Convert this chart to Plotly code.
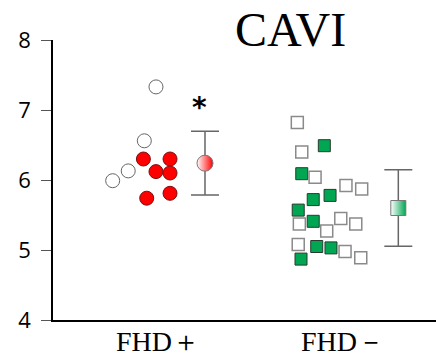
import plotly.graph_objects as go

# ---- data ----
categories = ["FHD\uff0b", "FHD\uff0d"]
group_pos = [1, 2]

# FHD+ individual values
fhdp_open_vals = [7.33, 6.56, 6.13, 5.99]
fhdp_open_jit = [-0.011, -0.074, -0.161, -0.245]
fhdp_fill_vals = [6.30, 6.30, 6.12, 6.10, 5.81, 5.74]
fhdp_fill_jit = [-0.079, 0.065, -0.011, 0.065, 0.065, -0.061]

# FHD- individual values
fhdm_open_vals = [6.82, 6.40, 6.04, 5.92, 5.87, 5.37, 5.27, 5.45, 5.37, 5.08, 4.98, 4.89]
fhdm_open_jit = [-0.247, -0.223, -0.151, 0.016, 0.101, -0.236, -0.088, -0.012, 0.069, -0.242, 0.011, 0.096]
fhdm_fill_vals = [6.49, 6.09, 5.78, 5.72, 5.57, 5.41, 5.05, 5.03, 4.87]
fhdm_fill_jit = [-0.101, -0.223, -0.070, -0.161, -0.242, -0.161, -0.142, -0.065, -0.227]

# group means and SD
means = [6.24, 5.60]
sds = [0.455, 0.545]
mean_offset = [0.254, 0.299]

y_ticks = [4, 5, 6, 7, 8]

fig = go.Figure()

# FHD+ open circles
fig.add_trace(go.Scatter(
    x=[group_pos[0] + j for j in fhdp_open_jit], y=fhdp_open_vals, mode="markers",
    marker=dict(symbol="circle", size=14, color="white", line=dict(color="#666666", width=1)),
    showlegend=False, hoverinfo="skip"))
# FHD+ red circles
fig.add_trace(go.Scatter(
    x=[group_pos[0] + j for j in fhdp_fill_jit], y=fhdp_fill_vals, mode="markers",
    marker=dict(symbol="circle", size=14, color="#ff0000", line=dict(color="#7a1010", width=1)),
    showlegend=False, hoverinfo="skip"))

# FHD- green squares
fig.add_trace(go.Scatter(
    x=[group_pos[1] + j for j in fhdm_fill_jit], y=fhdm_fill_vals, mode="markers",
    marker=dict(symbol="square", size=12, color="#00a651", line=dict(color="#2a3a30", width=1)),
    showlegend=False, hoverinfo="skip"))
# FHD- open squares
fig.add_trace(go.Scatter(
    x=[group_pos[1] + j for j in fhdm_open_jit], y=fhdm_open_vals, mode="markers",
    marker=dict(symbol="square", size=12, color="white", line=dict(color="#8a8a8a", width=1.5)),
    showlegend=False, hoverinfo="skip"))

# mean +/- SD
fig.add_trace(go.Scatter(
    x=[group_pos[0] + mean_offset[0]], y=[means[0]], mode="markers",
    error_y=dict(type="data", array=[sds[0]], color="#666666", thickness=1.5, width=14),
    marker=dict(symbol="circle", size=16, color="white",
                gradient=dict(type="horizontal", color="#ff0000"),
                line=dict(color="#777777", width=1)),
    showlegend=False, hoverinfo="skip"))
fig.add_trace(go.Scatter(
    x=[group_pos[1] + mean_offset[1]], y=[means[1]], mode="markers",
    error_y=dict(type="data", array=[sds[1]], color="#666666", thickness=1.5, width=14),
    marker=dict(symbol="square", size=15, color="white",
                gradient=dict(type="horizontal", color="#00a651"),
                line=dict(color="#777777", width=1)),
    showlegend=False, hoverinfo="skip"))

fig.add_annotation(x=group_pos[0] + mean_offset[0] - 0.03, y=7.10, text="<b>*</b>", showarrow=False,
                   font=dict(family="DejaVu Sans", size=28, color="black"),
                   xanchor="center", yanchor="middle", yshift=-4)

fig.add_annotation(x=0.62, xref="paper", y=1.0, yref="paper", text="CAVI", showarrow=False,
                   font=dict(family="Liberation Serif", size=48, color="black"),
                   xanchor="center", yanchor="middle", yshift=11)

fig.update_layout(
    width=436, height=356,
    margin=dict(l=53, r=0, t=40, b=36, autoexpand=False),
    paper_bgcolor="white", plot_bgcolor="white",
    xaxis=dict(range=[(53 - 158) / 185 + 1, (436 - 158) / 185 + 1],
               tickvals=group_pos, ticktext=categories, showgrid=False, zeroline=False,
               showline=True, linecolor="black", linewidth=1.5, ticks="", automargin=False,
               ticklabelstandoff=-4,
               tickfont=dict(family="Liberation Serif", size=28, color="black")),
    yaxis=dict(range=[4, 8], tickvals=y_ticks, showgrid=False, zeroline=False, automargin=False,
               showline=True, linecolor="black", linewidth=1.5, ticks="outside",
               ticklen=10, tickcolor="#555555", tickwidth=1, ticklabelstandoff=6,
               tickfont=dict(family="Open Sans", size=22, color="black")),
)

fig.write_html("out.html", config={"displayModeBar": False},
               post_script="document.body.style.margin='0';")
